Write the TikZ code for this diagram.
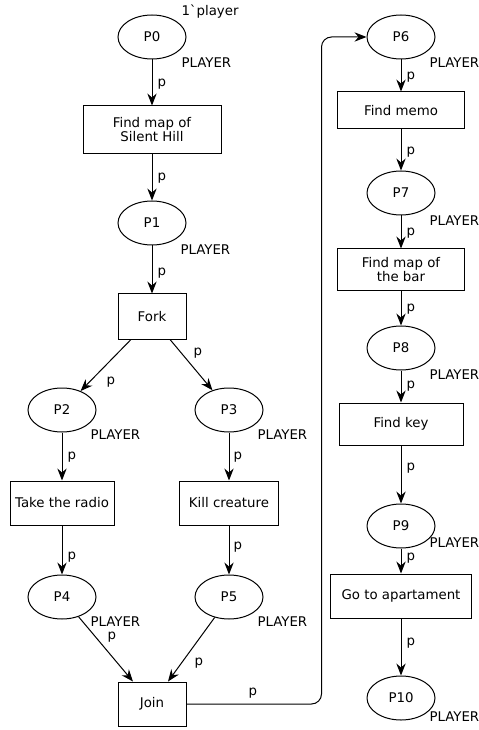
\documentclass[tikz,border=0pt]{standalone}
\usepackage{fontspec}
\setmainfont{DejaVu Sans}
\usetikzlibrary{shapes.geometric,arrows.meta}
\begin{document}
\fontsize{10pt}{10.5pt}\selectfont
\begin{tikzpicture}[x=0.75pt,y=-0.75pt,
  line width=0.75pt,
  place/.style={draw,ellipse,minimum width=51pt,minimum height=33pt,inner sep=0pt},
  trans/.style={draw,rectangle,inner sep=0pt,align=center},
  arc/.style={-{Stealth[length=9pt,width=7pt,inset=3pt]}},
  lbl/.style={anchor=west,inner sep=0pt}]
\useasboundingbox (0,0) rectangle (478,730);

% places
\node[place] (P0) at (152,37) {P0};
\node[place] (P1) at (152,223) {P1};
\node[place] (P2) at (62,410) {P2};
\node[place] (P3) at (229,410) {P3};
\node[place] (P4) at (62,597) {P4};
\node[place] (P5) at (229,597) {P5};
\node[place] (P6) at (401,37) {P6};
\node[place] (P7) at (401,193) {P7};
\node[place] (P8) at (401,348) {P8};
\node[place] (P9) at (401,526) {P9};
\node[place] (P10) at (401,698) {P10};

% transitions
\node[trans,minimum width=103.5pt,minimum height=36pt] (T1) at (152,130) {Find map of\\Silent Hill};
\node[trans,minimum width=51pt,minimum height=33.75pt] (Fork) at (152,316.5) {Fork};
\node[trans,minimum width=78pt,minimum height=33pt] (Radio) at (62,503) {Take the radio};
\node[trans,minimum width=74.25pt,minimum height=33pt] (Kill) at (229,503) {Kill creature};
\node[trans,minimum width=51pt,minimum height=33pt] (Join) at (152,704) {Join};
\node[trans,minimum width=95.25pt,minimum height=27.75pt] (Memo) at (401,110.5) {Find memo};
\node[trans,minimum width=95.25pt,minimum height=31.5pt] (Bar) at (401,270) {Find map of\\the bar};
\node[trans,minimum width=93pt,minimum height=31.5pt] (Key) at (401,424) {Find key};
\node[trans,minimum width=105.75pt,minimum height=33pt] (Apt) at (401,596) {Go to apartament};

% arcs
\draw[arc] (P0) -- (T1);
\draw[arc] (T1) -- (P1);
\draw[arc] (P1) -- (Fork);
\draw[arc] ([xshift=-15.75pt]Fork.south) -- (P2);
\draw[arc] ([xshift=13.5pt]Fork.south) -- (P3);
\draw[arc] (P2) -- (Radio);
\draw[arc] (P3) -- (Kill);
\draw[arc] (Radio) -- (P4);
\draw[arc] (Kill) -- (P5);
\draw[arc] (P4.-50) -- ([xshift=-14.25pt]Join.north);
\draw[arc] (P5.-125) -- ([xshift=12pt]Join.north);
\draw[arc,rounded corners=7.5pt] (Join.east) -- ++(135,0) |- (P6.west);
\draw[arc] (P6) -- (Memo);
\draw[arc] (Memo) -- (P7);
\draw[arc] (P7) -- (Bar);
\draw[arc] (Bar) -- (P8);
\draw[arc] (P8) -- (Key);
\draw[arc] (Key) -- (P9);
\draw[arc] (P9) -- (Apt);
\draw[arc] (Apt) -- (P10);

% initial marking and colour sets
\node[lbl] (m0) at (181,12) {1\textasciigrave player};
\node[lbl] (c0) at (181,63) {PLAYER};
\node[lbl] (c1) at (180,250) {PLAYER};
\node[lbl] (c2) at (90,435) {PLAYER};
\node[lbl] (c3) at (257,435) {PLAYER};
\node[lbl] (c4) at (90,622) {PLAYER};
\node[lbl] (c5) at (257,622) {PLAYER};
\node[lbl] (c6) at (429,63) {PLAYER};
\node[lbl] (c7) at (429,221) {PLAYER};
\node[lbl] (c8) at (429,375) {PLAYER};
\node[lbl] (c9) at (429,543) {PLAYER};
\node[lbl] (c10) at (429,717) {PLAYER};

% arc inscriptions
\node[lbl] at (157,84) {p};
\node[lbl] at (157,178) {p};
\node[lbl] at (157,273) {p};
\node[lbl] at (193,353) {p};
\node[lbl] at (106,382) {p};
\node[lbl] at (67,457) {p};
\node[lbl] at (233,457) {p};
\node[lbl] at (67,557) {p};
\node[lbl] at (233,547) {p};
\node[lbl] at (107,637) {p};
\node[lbl] at (194,663) {p};
\node[lbl] at (248,693) {p};
\node[lbl] at (406,77) {p};
\node[lbl] at (406,152) {p};
\node[lbl] at (406,233) {p};
\node[lbl] at (406,309) {p};
\node[lbl] at (406,386) {p};
\node[lbl] at (406,468) {p};
\node[lbl] at (406,558) {p};
\node[lbl] at (406,643) {p};
\end{tikzpicture}
\end{document}
